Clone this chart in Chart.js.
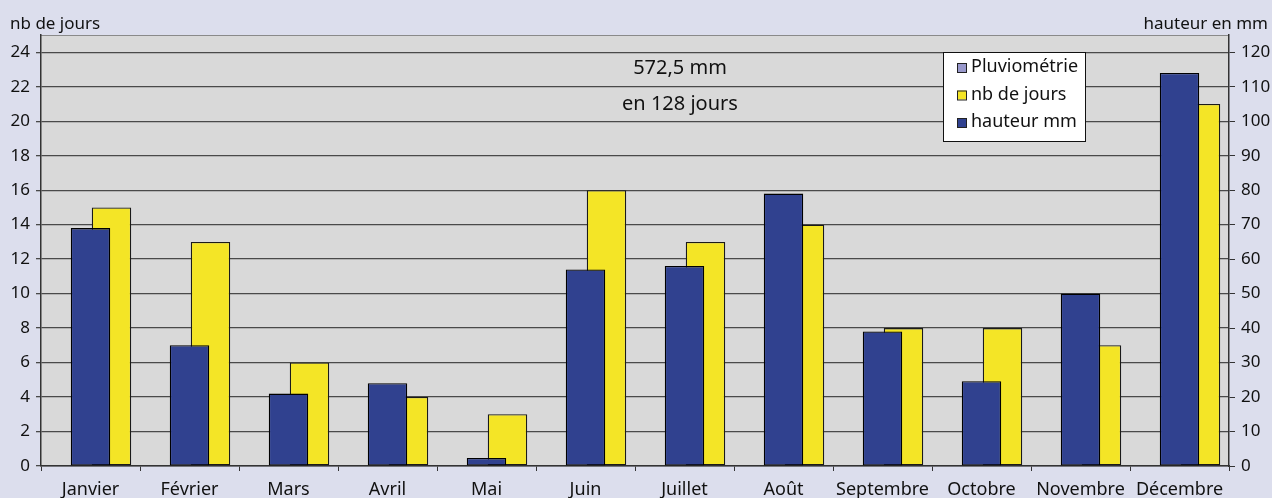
<!DOCTYPE html>
<html>
<head>
<meta charset="utf-8">
<script src="https://cdn.jsdelivr.net/npm/chart.js@4.4.1/dist/chart.umd.min.js"></script>
<style>
  body { margin:0; background:#dcdeed; }
  #box { width:1272px; height:498px; position:relative; }
</style>
</head>
<body>
<div id="box"><canvas id="graf"></canvas></div>
<script>
var mois = ['Janvier','Février','Mars','Avril','Mai','Juin','Juillet','Août','Septembre','Octobre','Novembre','Décembre'];
var hauteurMm = [69, 35, 21, 24, 2.3, 57, 58, 79, 39, 24.6, 50, 114];
var nbJours = [15, 13, 6, 4, 3, 16, 13, 14, 8, 8, 7, 21];
var pluvio = [null, null, null, null, null, null, null, null, null, null, null, null];
var ticksJours = [0, 2, 4, 6, 8, 10, 12, 14, 16, 18, 20, 22, 24];
var ticksMm = [0, 10, 20, 30, 40, 50, 60, 70, 80, 90, 100, 110, 120];
var totalTexte = ['572,5 mm', 'en 128 jours'];
var titreGauche = 'nb de jours';
var titreDroite = 'hauteur en mm';

var police = "'Noto Sans', sans-serif";

// fond gris de la zone de tracé
var fondZone = {
    id: 'fondZone',
    beforeDraw: function(chart){
        var a = chart.chartArea, c = chart.ctx;
        c.save();
        c.fillStyle = '#d9d9d9';
        c.fillRect(a.left, a.top, a.right - a.left, a.bottom - a.top);
        c.strokeStyle = '#8a8a8a';
        c.lineWidth = 1;
        c.beginPath();
        c.moveTo(a.left, a.top + 0.5);
        c.lineTo(a.right, a.top + 0.5);
        c.stroke();
        c.restore();
    }
};

// titres, total et légende
var textes = {
    id: 'textes',
    afterDraw: function(chart){
        var c = chart.ctx;
        c.save();
        c.fillStyle = '#111';
        c.font = '17px ' + police;
        c.textBaseline = 'alphabetic';
        c.textAlign = 'left';
        c.fillText(titreGauche, 10, 29);
        c.textAlign = 'right';
        c.fillText(titreDroite, 1268, 29);

        c.font = '20px ' + police;
        c.textAlign = 'center';
        c.textBaseline = 'middle';
        c.fillText(totalTexte[0], 680, 68);
        c.fillText(totalTexte[1], 680, 104);

        // légende
        var x0 = 943, y0 = 52, w = 142, h = 89;
        c.fillStyle = '#fff';
        c.fillRect(x0, y0, w, h);
        c.strokeStyle = '#111';
        c.lineWidth = 1;
        c.strokeRect(x0 + 0.5, y0 + 0.5, w, h);
        var ordre = [0, 2, 1];
        c.font = '18px ' + police;
        c.textAlign = 'left';
        ordre.forEach(function(idx, i){
            var ds = chart.data.datasets[idx];
            var yy = y0 + 15 + i * 27.5;
            c.fillStyle = ds.backgroundColor;
            c.fillRect(x0 + 14, yy - 4, 9, 9);
            c.strokeStyle = '#222';
            c.strokeRect(x0 + 14.5, yy - 3.5, 9, 9);
            c.fillStyle = '#111';
            c.fillText(ds.label, x0 + 28, yy);
        });
        c.restore();
    }
};

function poserTicks(valeurs){
    return function(s){
        s.ticks = valeurs.map(function(v){ return { value: v }; });
    };
}

var ctx = document.getElementById('graf');
var grafico = new Chart(ctx, {
    type: 'bar',
    data: {
        labels: mois,
        datasets: [{
            label: 'Pluviométrie',
            data: pluvio,
            backgroundColor: '#9999cc',
            yAxisID: 'y'
        },{
            label: 'hauteur mm',
            data: hauteurMm,
            backgroundColor: '#30418f',
            borderColor: '#000',
            borderWidth: 1.3,
            borderSkipped: false,
            yAxisID: 'y1'
        },{
            label: 'nb de jours',
            data: nbJours,
            backgroundColor: '#f4e526',
            borderColor: '#1a1a1a',
            borderWidth: 1.3,
            borderSkipped: false,
            yAxisID: 'y'
        }]
    },
    options: {
        responsive: true,
        maintainAspectRatio: false,
        animation: false,
        categoryPercentage: 0.636,
        barPercentage: 1.88,
        layout: { padding: { top: 35, left: 0, right: 0, bottom: 0 } },
        plugins: {
            legend: { display: false },
            tooltip: { enabled: false }
        },
        scales: {
            x: {
                offset: true,
                grid: { display: true, drawOnChartArea: false, drawTicks: true, tickLength: 5, color: '#333', offset: true },
                border: { color: '#333', width: 1.5 },
                ticks: { font: { family: police, size: 18 }, color: '#111', padding: 8, maxRotation: 0, autoSkip: false },
                afterFit: function(s){ s.height = 32; }
            },
            y: {
                position: 'left',
                min: 0, max: 25,
                ticks: { font: { family: police, size: 17 }, color: '#111', padding: 6 },
                afterBuildTicks: poserTicks(ticksJours),
                grid: { color: '#4a4a4a', lineWidth: 1.3, tickLength: 5 },
                border: { color: '#333', width: 1.5 },
                afterFit: function(s){ s.width = 41; }
            },
            y1: {
                position: 'right',
                min: 0, max: 125,
                ticks: { font: { family: police, size: 17 }, color: '#111', padding: 6 },
                afterBuildTicks: poserTicks(ticksMm),
                grid: { drawOnChartArea: false, color: '#333', tickLength: 6 },
                border: { color: '#333', width: 1.5 },
                afterFit: function(s){ s.width = 43; }
            }
        }
    },
    plugins: [fondZone, textes]
});
</script>
</body>
</html>
